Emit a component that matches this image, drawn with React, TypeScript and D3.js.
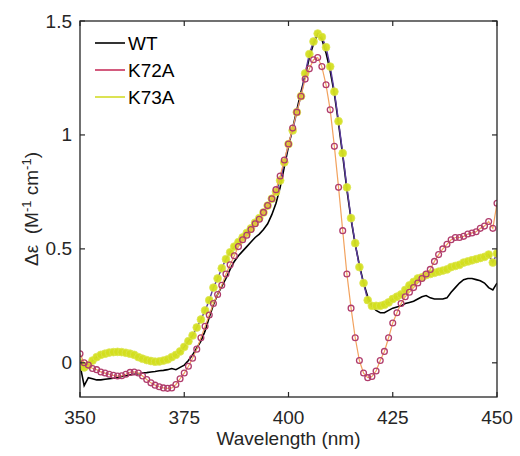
import React from "react";
import * as d3 from "d3";

const wavelengths: number[] = d3.range(350, 451, 1);

const wtValues: number[] = [
  -0.01, -0.10, -0.065, -0.07, -0.075, -0.075, -0.072, -0.07, -0.068, -0.065,
  -0.06, -0.057, -0.053, -0.05, -0.048, -0.045, -0.043, -0.04, -0.038, -0.035,
  -0.033, -0.03, -0.025, -0.03, -0.02, -0.01, 0.01, 0.035, 0.065, 0.095,
  0.14, 0.2, 0.255, 0.3, 0.335, 0.37, 0.41, 0.445, 0.47, 0.49,
  0.51, 0.53, 0.55, 0.565, 0.585, 0.61, 0.65, 0.7, 0.77, 0.86,
  0.95, 1.03, 1.11, 1.19, 1.26, 1.34, 1.4, 1.44, 1.42, 1.36,
  1.28, 1.18, 1.05, 0.91, 0.76, 0.63, 0.52, 0.43, 0.35, 0.29,
  0.25, 0.23, 0.22, 0.22, 0.23, 0.24, 0.245, 0.25, 0.26, 0.265,
  0.27, 0.28, 0.29, 0.295, 0.285, 0.28, 0.28, 0.28, 0.285, 0.31,
  0.33, 0.35, 0.365, 0.37, 0.37, 0.365, 0.36, 0.35, 0.33, 0.32,
  0.35,
];

const k72aValues: number[] = [
  0.04, 0.0, -0.01, -0.025, -0.03, -0.04, -0.045, -0.05, -0.055, -0.058,
  -0.057, -0.05, -0.042, -0.04, -0.045, -0.058, -0.073, -0.088, -0.098, -0.105,
  -0.11, -0.112, -0.11, -0.095, -0.07, -0.045, -0.015, 0.02, 0.06, 0.11,
  0.16, 0.21, 0.26, 0.3, 0.34, 0.39, 0.43, 0.47, 0.51, 0.54,
  0.56, 0.585, 0.61, 0.63, 0.66, 0.69, 0.72, 0.76, 0.82, 0.89,
  0.96, 1.03, 1.1, 1.17, 1.245, 1.29, 1.33, 1.34, 1.3, 1.22,
  1.11, 0.95, 0.77, 0.58, 0.39, 0.24, 0.11, 0.01, -0.045, -0.065,
  -0.06, -0.036, 0.01, 0.05, 0.11, 0.175, 0.22, 0.26, 0.29, 0.31,
  0.33, 0.35, 0.37, 0.39, 0.41, 0.445, 0.475, 0.5, 0.52, 0.54,
  0.55, 0.55, 0.555, 0.565, 0.57, 0.575, 0.59, 0.6, 0.62, 0.59,
  0.7,
];

const k73aValues: number[] = [
  0.0, -0.02, -0.01, 0.01, 0.025, 0.035, 0.04, 0.045, 0.047, 0.048,
  0.047, 0.044, 0.04, 0.035, 0.025, 0.018, 0.012, 0.008, 0.005, 0.006,
  0.01, 0.015, 0.025, 0.035, 0.05, 0.07, 0.095, 0.12, 0.155, 0.19,
  0.23, 0.275, 0.33, 0.37, 0.415, 0.455, 0.485, 0.51, 0.53, 0.55,
  0.57, 0.59, 0.615, 0.635, 0.66, 0.69, 0.72, 0.75, 0.8, 0.88,
  0.96, 1.02, 1.1, 1.17, 1.27, 1.355, 1.41, 1.445, 1.43, 1.385,
  1.3, 1.19, 1.06, 0.92, 0.77, 0.635, 0.525, 0.42, 0.35, 0.275,
  0.25, 0.25, 0.25, 0.255, 0.265, 0.28, 0.29, 0.3, 0.32, 0.34,
  0.355, 0.37, 0.375, 0.385, 0.39, 0.395, 0.4, 0.405, 0.41, 0.42,
  0.425, 0.43, 0.44, 0.445, 0.45, 0.455, 0.46, 0.465, 0.475, 0.44,
  0.48,
];

const xTicks: number[] = [350, 375, 400, 425, 450];
const yTicks: number[] = [0, 0.5, 1, 1.5];
const yTickLabels: string[] = ["0", "0.5", "1", "1.5"];
const legendNames: string[] = ["WT", "K72A", "K73A"];

const W = 520;
const H = 456;
const M = { left: 80, right: 497, top: 21, bottom: 397 };
const FONT = "'Liberation Sans', Arial, Helvetica, sans-serif";
const AX = "#262626";

export default function App() {
  const x = d3.scaleLinear().domain([350, 450]).range([M.left, M.right]);
  const y = d3.scaleLinear().domain([-0.15, 1.5]).range([M.bottom, M.top]);
  const line = d3
    .line<[number, number]>()
    .x((d) => x(d[0]))
    .y((d) => y(d[1]));
  const wt: [number, number][] = wavelengths.map((w, i) => [w, wtValues[i]]);
  const k72: [number, number][] = wavelengths.map((w, i) => [w, k72aValues[i]]);
  const k73: [number, number][] = wavelengths.map((w, i) => [w, k73aValues[i]]);
  const tickLen = 5;
  const legendColors = ["#000000", "#c8325e", "#d4dc2a"];

  return (
    <svg
      width={W}
      height={H}
      style={{ position: "absolute", left: 0, top: 0, background: "#fff" }}
      fontFamily={FONT}
    >
      <rect x={0} y={0} width={W} height={H} fill="#fff" />
      <defs>
        <clipPath id="plotclip">
          <rect x={M.left} y={M.top} width={M.right - M.left} height={M.bottom - M.top} />
        </clipPath>
      </defs>
      <g clipPath="url(#plotclip)">
        <path d={line(wt) || ""} fill="none" stroke="#000" strokeWidth={1.6} />
        <path d={line(k73) || ""} fill="none" stroke="#5b3c9e" strokeWidth={1.4} />
        {k73.map((d, i) => (
          <circle key={"y" + i} cx={x(d[0])} cy={y(d[1])} r={3.9} fill="#d4e01e" stroke="#dde650" strokeWidth={0.8} opacity={0.95} />
        ))}
        <path d={line(k72) || ""} fill="none" stroke="#f2a25e" strokeWidth={1.2} />
        {k72.map((d, i) => (
          <circle key={"k" + i} cx={x(d[0])} cy={y(d[1])} r={2.9} fill="none" stroke="#b03c6c" strokeWidth={1.3} />
        ))}
      </g>
      <rect
        x={M.left}
        y={M.top}
        width={M.right - M.left}
        height={M.bottom - M.top}
        fill="none"
        stroke={AX}
        strokeWidth={1.3}
      />
      {xTicks.map((t) => (
        <g key={"xt" + t}>
          <line x1={x(t)} x2={x(t)} y1={M.bottom} y2={M.bottom - tickLen} stroke={AX} strokeWidth={1.2} />
          <line x1={x(t)} x2={x(t)} y1={M.top} y2={M.top + tickLen} stroke={AX} strokeWidth={1.2} />
          <text x={x(t)} y={424} textAnchor="middle" fontSize={19} fill={AX}>
            {t}
          </text>
        </g>
      ))}
      {yTicks.map((t, i) => (
        <g key={"yt" + t}>
          <line x1={M.left} x2={M.left + tickLen} y1={y(t)} y2={y(t)} stroke={AX} strokeWidth={1.2} />
          <line x1={M.right} x2={M.right - tickLen} y1={y(t)} y2={y(t)} stroke={AX} strokeWidth={1.2} />
          <text x={72} y={y(t) + 6.5} textAnchor="end" fontSize={19} fill={AX}>
            {yTickLabels[i]}
          </text>
        </g>
      ))}
      <text x={(M.left + M.right) / 2} y={445} textAnchor="middle" fontSize={19} fill={AX}>
        Wavelength (nm)
      </text>
      <text
        transform={`translate(38, ${(M.top + M.bottom) / 2}) rotate(-90)`}
        textAnchor="middle"
        fontSize={19}
        fill={AX}
        style={{ whiteSpace: "pre" }}
      >
        {"Δε  (M"}
        <tspan fontSize={13} dy={-7}>-1</tspan>
        <tspan dy={7}>{" cm"}</tspan>
        <tspan fontSize={13} dy={-7}>-1</tspan>
        <tspan dy={7}>)</tspan>
      </text>
      {legendNames.map((name, i) => (
        <g key={name}>
          <line x1={95} x2={125} y1={43 + i * 27} y2={43 + i * 27} stroke={legendColors[i]} strokeWidth={1.6} />
          <text x={128} y={43 + i * 27 + 7} fontSize={19} fill="#000">
            {name}
          </text>
        </g>
      ))}
    </svg>
  );
}
